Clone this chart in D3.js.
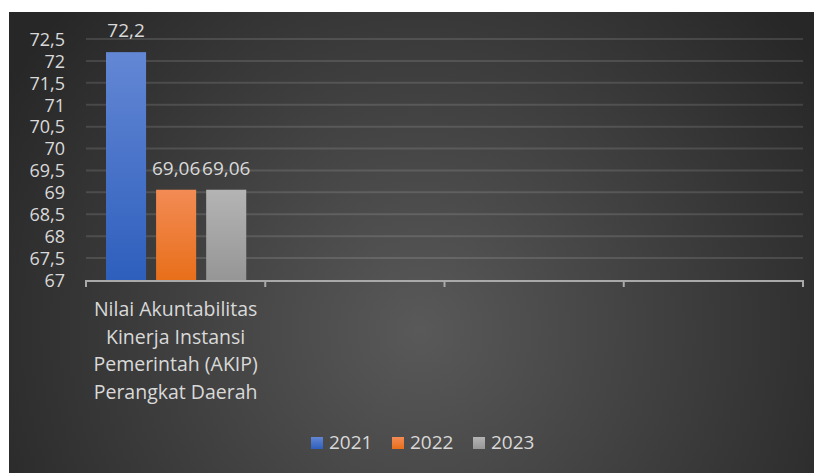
<!DOCTYPE html>
<html>
<head>
<meta charset="utf-8">
<script src="https://cdn.jsdelivr.net/npm/d3@7/dist/d3.min.js"></script>
<style>
  body { margin: 0; background: #fff; }
  svg { display: block; }
  text { font-family: "Open Sans", "Noto Sans", sans-serif; fill: #d9d9d9; }
</style>
</head>
<body>
<svg id="chart" width="814" height="473"></svg>
<script>
// categories on the x axis (only the first one carries data)
var categories = ["Nilai Akuntabilitas Kinerja Instansi Pemerintah (AKIP) Perangkat Daerah", "c2", "c3", "c4"];
var categoryLines = [["Nilai Akuntabilitas", "Kinerja Instansi", "Pemerintah (AKIP)", "Perangkat Daerah"], [], [], []];
var seriesNames = ["2021", "2022", "2023"];
var values2021 = [72.2, null, null, null];
var values2022 = [69.06, null, null, null];
var values2023 = [69.06, null, null, null];
var yTicks = [67, 67.5, 68, 68.5, 69, 69.5, 70, 70.5, 71, 71.5, 72, 72.5];

var colors = {
  "2021": ["#6387d4", "#2e5fbd"],
  "2022": ["#f38b55", "#e86f1a"],
  "2023": ["#b4b4b4", "#969696"]
};

var svg = d3.select("#chart");
var defs = svg.append("defs");

// background radial gradient (dark style)
var bg = defs.append("radialGradient")
    .attr("id", "bg")
    .attr("gradientUnits", "userSpaceOnUse")
    .attr("cx", 420).attr("cy", 330).attr("r", 480);
bg.append("stop").attr("offset", "0%").attr("stop-color", "#595959");
bg.append("stop").attr("offset", "100%").attr("stop-color", "#272727");

seriesNames.forEach(function(s, i) {
  var g = defs.append("linearGradient")
      .attr("id", "grad" + i)
      .attr("x1", 0).attr("y1", 0).attr("x2", 0).attr("y2", 1);
  g.append("stop").attr("offset", "0%").attr("stop-color", colors[s][0]);
  g.append("stop").attr("offset", "100%").attr("stop-color", colors[s][1]);
});

svg.append("rect")
    .attr("x", 9).attr("y", 12)
    .attr("width", 805).attr("height", 461)
    .attr("fill", "url(#bg)");

var margin = {top: 39, left: 86, right: 11, bottom: 193};
var width = 814 - margin.left - margin.right,
    height = 473 - margin.top - margin.bottom;

var x0 = d3.scaleBand().domain(categories).range([0, width]).paddingInner(0).paddingOuter(0);
var x1 = d3.scaleBand().domain(seriesNames).range([20, x0.bandwidth() - 19]).paddingInner(0.2);
var y = d3.scaleLinear().domain([67, 72.5]).range([height, 0]);

var g = svg.append("g").attr("transform", "translate(" + margin.left + "," + margin.top + ")");

// gridlines
g.append("g")
    .selectAll("line")
    .data(yTicks.slice(1))
    .enter().append("line")
    .attr("x1", 0).attr("x2", width)
    .attr("y1", function(d) { return y(d); })
    .attr("y2", function(d) { return y(d); })
    .attr("stroke", "rgba(255,255,255,0.12)")
    .attr("stroke-width", 2);

// y axis labels
var yAxis = g.append("g")
    .call(d3.axisLeft(y).tickValues(yTicks).tickSize(0).tickPadding(21)
      .tickFormat(function(d) { return String(d).replace(".", ","); }));
yAxis.select(".domain").remove();
yAxis.selectAll("text").style("font-size", "18px").attr("fill", "#d9d9d9").attr("dy", "0.35em");

// bars
var allSeries = [values2021, values2022, values2023];
var rows = [];
categories.forEach(function(c, ci) {
  seriesNames.forEach(function(s, si) {
    if (allSeries[si][ci] != null) rows.push({cat: c, series: s, si: si, value: allSeries[si][ci]});
  });
});

g.selectAll(".bar")
    .data(rows)
    .enter().append("rect")
    .attr("class", "bar")
    .attr("x", function(d) { return x0(d.cat) + x1(d.series); })
    .attr("width", x1.bandwidth())
    .attr("y", function(d) { return y(d.value); })
    .attr("height", function(d) { return height - y(d.value); })
    .attr("fill", function(d) { return "url(#grad" + d.si + ")"; });

// value labels
g.selectAll(".lbl")
    .data(rows)
    .enter().append("text")
    .attr("class", "lbl")
    .attr("x", function(d) { return x0(d.cat) + x1(d.series) + x1.bandwidth() / 2; })
    .attr("y", function(d) { return y(d.value) - 15; })
    .attr("text-anchor", "middle")
    .style("font-size", "19px")
    .text(function(d) { return String(d.value).replace(".", ","); });

// x axis with category boundary ticks
var xAxis = g.append("g").attr("transform", "translate(0," + height + ")");
xAxis.append("line")
    .attr("x1", 0).attr("x2", width)
    .attr("y1", 1).attr("y2", 1)
    .attr("stroke", "#a9a9a9").attr("stroke-width", 2);
var bounds = categories.map(function(c) { return x0(c); }).concat([width]);
xAxis.selectAll(".tk")
    .data(bounds)
    .enter().append("line")
    .attr("class", "tk")
    .attr("x1", function(d) { return d; }).attr("x2", function(d) { return d; })
    .attr("y1", 0).attr("y2", 7)
    .attr("stroke", "#a9a9a9").attr("stroke-width", 2);

// category labels
categories.forEach(function(c, ci) {
  var t = xAxis.append("text")
      .attr("x", x0(c) + x0.bandwidth() / 2)
      .attr("y", 36)
      .attr("text-anchor", "middle")
      .style("font-size", "19.5px");
  categoryLines[ci].forEach(function(line, li) {
    t.append("tspan")
        .attr("x", x0(c) + x0.bandwidth() / 2)
        .attr("y", 36 + li * 27.7)
        .text(line);
  });
});

// legend
var legendX = [311, 392, 473];
var legend = svg.append("g");
seriesNames.forEach(function(s, i) {
  legend.append("rect")
      .attr("x", legendX[i]).attr("y", 437)
      .attr("width", 12).attr("height", 12)
      .attr("fill", "url(#grad" + i + ")");
  legend.append("text")
      .attr("x", legendX[i] + 18).attr("y", 449)
      .style("font-size", "19px")
      .text(s);
});
</script>
</body>
</html>
